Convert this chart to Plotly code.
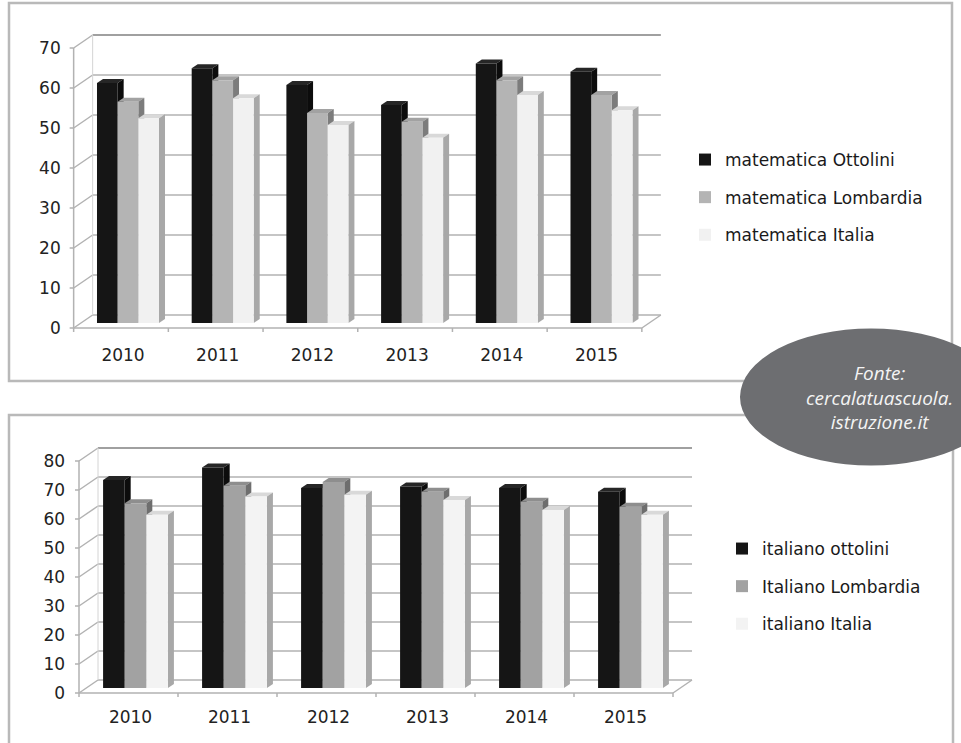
import plotly.graph_objects as go

# ---------------- data ----------------
years = [2010, 2011, 2012, 2013, 2014, 2015]

math_names = ["matematica Ottolini", "matematica Lombardia", "matematica Italia"]
math_ottolini = [60, 63.7, 59.5, 54.5, 64.9, 62.8]
math_lombardia = [55.3, 60.7, 52.5, 50.3, 60.7, 57]
math_italia = [51.2, 56.2, 49.5, 46.3, 57, 53.2]
math_ticks = [0, 10, 20, 30, 40, 50, 60, 70]

ita_names = ["italiano ottolini", "Italiano Lombardia", "italiano Italia"]
ita_ottolini = [71.7, 76, 69, 69.5, 69, 67.7]
ita_lombardia = [63.7, 69.7, 71, 67.7, 64.2, 62.5]
ita_italia = [59.7, 66, 66.6, 64.8, 61.4, 59.7]
ita_ticks = [0, 10, 20, 30, 40, 50, 60, 70, 80]

source_lines = ["Fonte:", "cercalatuascuola.", "istruzione.it"]

# ---------------- geometry / style ----------------
W, H = 961, 743


def fx(px):
    return px / W


def fy(py):
    return 1 - py / H


TOP = dict(cx0=128, step=94.7, y0=323, ppu=4.0, xr=(2009.3, 2015.95), yr=(-5, 75),
           xa="x", ya="y", leg="legend")
BOT = dict(cx0=135.5, step=99.0, y0=688, ppu=2.9, xr=(2009.3, 2015.9), yr=(-6, 86),
           xa="x2", ya="y2", leg="legend2")

GW = 0.655          # group width (fraction of a category)
BW = GW / 3         # single bar width
FRAME = "#b2b2b2"
TOPLINE = "#a0a0a0"

math_colors = dict(front=["#151515", "#b4b4b4", "#f1f1f1"],
                   top=["#262626", "#a2a2a2", "#d9d9d9"],
                   side=["#0c0c0c", "#7c7c7c", "#a8a8a8"])
ita_colors = dict(front=["#151515", "#a2a2a2", "#f3f3f3"],
                  top=["#262626", "#8e8e8e", "#d9d9d9"],
                  side=["#0c0c0c", "#6e6e6e", "#a8a8a8"])

fig = go.Figure()
shapes = []


def path(pts):
    return "M " + " L ".join(f"{x:.5f},{y:.5f}" for x, y in pts) + " Z"


def seg(g, p0, p1, color=FRAME, width=1.5):
    shapes.append(dict(type="line", xref=g["xa"], yref=g["ya"], x0=p0[0], y0=p0[1],
                       x1=p1[0], y1=p1[1], line=dict(color=color, width=width),
                       layer="below"))


def poly(g, pts, color):
    shapes.append(dict(type="path", xref=g["xa"], yref=g["ya"], path=path(pts),
                       fillcolor=color, line=dict(width=0), layer="below"))


def build(g, series, names, colors, ticks):
    ux = 1.0 / g["step"]
    uy = 1.0 / g["ppu"]
    fdx, fdy = -7 * ux, -5 * uy      # front plane offset
    bdx, bdy = 12 * ux, 8 * uy       # back plane offset
    ddx, ddy = 6 * ux, 4 * uy        # own depth of a column
    xl, xr = years[0] - 0.5, years[-1] + 0.5
    tmax = ticks[-1]
    # back wall + left wall
    for t in ticks:
        seg(g, (xl + bdx, t + bdy), (xr + bdx, t + bdy),
            TOPLINE if t == tmax else FRAME, 2.2 if t == tmax else 1.5)
        seg(g, (xl + fdx, t + fdy), (xl + bdx, t + bdy))
        seg(g, (xl + fdx - 4 * ux, t + fdy), (xl + fdx, t + fdy))
    seg(g, (xl + fdx, fdy), (xl + fdx, tmax + fdy))
    seg(g, (xl + bdx, bdy), (xl + bdx, tmax + bdy), "#d4d4d4", 1)
    # floor
    seg(g, (xl + fdx, fdy), (xr + fdx, fdy))
    seg(g, (xr + fdx, fdy), (xr + bdx, bdy))
    for k in range(len(years) + 1):
        seg(g, (xl + k + fdx, fdy), (xl + k + fdx, fdy - 4 * uy))
    # column tops and sides (front faces are the bar traces)
    for i, yv in enumerate(years):
        for k, vals in enumerate(series):
            v = vals[i]
            a = yv - GW / 2 + k * BW
            b = a + BW
            poly(g, [(a, v), (b, v), (b + ddx, v + ddy), (a + ddx, v + ddy)], colors["top"][k])
            poly(g, [(b, 0), (b + ddx, ddy), (b + ddx, v + ddy), (b, v)], colors["side"][k])
    for k, vals in enumerate(series):
        fig.add_trace(go.Bar(
            x=years, y=vals, name=names[k], width=BW, offset=-GW / 2 + k * BW,
            marker=dict(color=colors["front"][k], line=dict(width=0)),
            xaxis=g["xa"], yaxis=g["ya"], legend=g["leg"], legendgroup=f"{g['leg']}{k}",
            hovertemplate="%{x}: %{y}<extra>" + names[k] + "</extra>"))


build(TOP, [math_ottolini, math_lombardia, math_italia], math_names, math_colors, math_ticks)
build(BOT, [ita_ottolini, ita_lombardia, ita_italia], ita_names, ita_colors, ita_ticks)


def axes(g, ticks):
    px_l = g["cx0"] + g["step"] * (g["xr"][0] - years[0])
    px_r = g["cx0"] + g["step"] * (g["xr"][1] - years[0])
    py_b = g["y0"] - g["ppu"] * g["yr"][0]
    py_t = g["y0"] - g["ppu"] * g["yr"][1]
    tickfont = dict(family="DejaVu Sans", size=17, color="#222222")
    xa = dict(domain=[fx(px_l), fx(px_r)], range=list(g["xr"]), tickvals=years,
              ticktext=[str(y) for y in years], showgrid=False, zeroline=False,
              showline=False, ticks="", tickfont=tickfont, ticklabelshift=-5,
              anchor=g["ya"], fixedrange=True)
    ya = dict(domain=[fy(py_b), fy(py_t)], range=list(g["yr"]), tickvals=ticks,
              showgrid=False, zeroline=False, showline=False, ticks="",
              tickfont=tickfont, ticklabelshift=5, anchor=g["xa"], fixedrange=True)
    return xa, ya


xa1, ya1 = axes(TOP, math_ticks)
xa2, ya2 = axes(BOT, ita_ticks)

# panel frames
shapes.append(dict(type="rect", xref="paper", yref="paper", x0=fx(9), x1=fx(952),
                   y0=fy(381), y1=fy(3), line=dict(color="#b9b9b9", width=2.5),
                   fillcolor="rgba(0,0,0,0)", layer="below"))
shapes.append(dict(type="rect", xref="paper", yref="paper", x0=fx(9), x1=fx(953),
                   y0=fy(760), y1=fy(415), line=dict(color="#b9b9b9", width=2.5),
                   fillcolor="rgba(0,0,0,0)", layer="below"))
# source ellipse
shapes.append(dict(type="circle", xref="paper", yref="paper", x0=fx(871 - 131),
                   x1=fx(871 + 131), y0=fy(397 + 68.5), y1=fy(397 - 68.5),
                   fillcolor="#6d6e71", line=dict(width=0), layer="above"))

annotations = [dict(text="<br>".join(source_lines), xref="paper", yref="paper",
                    x=fx(879), y=fy(397), xanchor="center", yanchor="middle",
                    align="center", showarrow=False,
                    font=dict(family="Open Sans", size=19, color="#f4f4f4",
                              style="italic"))]

legfont = dict(family="DejaVu Sans", size=17, color="#1a1a1a")
fig.update_layout(
    width=W, height=H, margin=dict(l=0, r=0, t=0, b=0),
    paper_bgcolor="white", plot_bgcolor="rgba(0,0,0,0)",
    barmode="overlay", showlegend=True,
    xaxis=xa1, yaxis=ya1, xaxis2=xa2, yaxis2=ya2,
    legend=dict(x=fx(685), y=fy(142), xanchor="left", yanchor="top", font=legfont,
                tracegroupgap=12.5, traceorder="grouped", bgcolor="rgba(0,0,0,0)",
                itemclick=False, itemdoubleclick=False),
    legend2=dict(x=fx(722), y=fy(531), xanchor="left", yanchor="top", font=legfont,
                 tracegroupgap=12.5, traceorder="grouped", bgcolor="rgba(0,0,0,0)",
                 itemclick=False, itemdoubleclick=False),
    shapes=shapes, annotations=annotations,
)

fig.write_html("out.html")
